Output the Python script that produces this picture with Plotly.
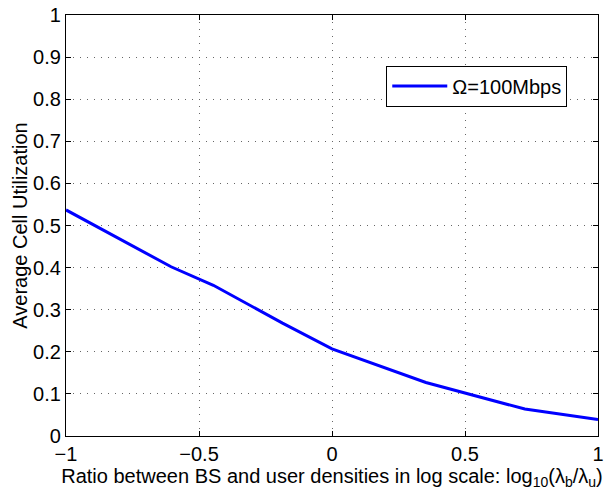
import plotly.graph_objects as go

x_vals = [-1.0, -0.605, -0.446, -0.186, 0.0, 0.353, 0.725, 1.0]
y_vals = [0.537, 0.402, 0.358, 0.268, 0.207, 0.127, 0.064, 0.039]
series_name = "Ω=100Mbps"
x_ticks = [-1, -0.5, 0, 0.5, 1]
y_ticks = [0, 0.1, 0.2, 0.3, 0.4, 0.5, 0.6, 0.7, 0.8, 0.9, 1]

FONT = "Liberation Sans, Arial, sans-serif"

fig = go.Figure()
fig.add_trace(go.Scatter(x=x_vals, y=y_vals, mode="lines", name=series_name,
                         line=dict(color="#0000ff", width=3)))

axis_common = dict(
    showline=True, linecolor="black", linewidth=1.3, mirror="ticks",
    ticks="inside", ticklen=5, tickcolor="black",
    showgrid=True, gridcolor="#666666", gridwidth=1, griddash="1px,6px",
    zeroline=False, tickfont=dict(family=FONT, size=20, color="black"),
    ticklabeloverflow="allow",
)

fig.update_layout(
    width=608, height=492,
    margin=dict(l=66, r=4, t=12, b=56),
    paper_bgcolor="white", plot_bgcolor="white",
    font=dict(family=FONT, size=20, color="black"),
    xaxis=dict(range=[-1, 1], tickvals=x_ticks, ticktext=["−1", "−0.5", "0", "0.5", "1"],
               title=dict(text="Ratio between BS and user densities in log scale: log<sub>10</sub>(λ<sub>b</sub>/λ<sub>u</sub>)",
                          font=dict(family=FONT, size=20), standoff=0),
               **axis_common),
    yaxis=dict(range=[0, 1], tickvals=y_ticks, ticktext=[str(v) for v in y_ticks],
               title=dict(text="Average Cell Utilization", font=dict(family=FONT, size=20), standoff=0),
               **axis_common),
    showlegend=True,
    legend=dict(x=0.602, y=0.88, xanchor="left", yanchor="top",
                bgcolor="white", bordercolor="black", borderwidth=1,
                itemwidth=55,
                font=dict(family=FONT, size=20, color="black")),
)

fig.write_html("out.html")
